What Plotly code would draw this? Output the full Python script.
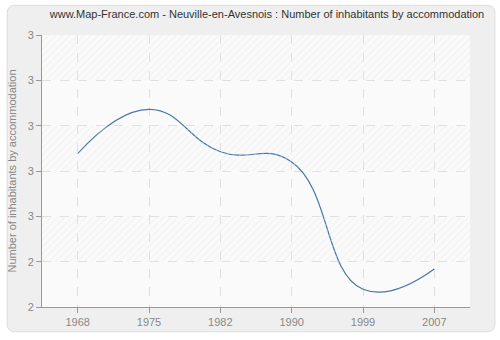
import plotly.graph_objects as go

years = ["1968", "1975", "1982", "1990", "1999", "2007"]
values = [2.846, 3.09, 2.856, 2.80, 2.098, 2.21]
tick_vals = [2.0, 2.25, 2.5, 2.75, 3.0, 3.25, 3.5]
tick_text = ["2", "2", "3", "3", "3", "3", "3"]
hatch_bases = [2.25, 2.75, 3.25]
band_step = 0.25

W, H = 500, 340
L, R, T, B = 40, 30, 35, 30
pw, ph = W - L - R, H - T - B

def px(x):
    return (x - L) / pw

def py(y):
    return (H - B - y) / ph

# rounded background box
x0, x1, y0, y1, r = 5, 495, 5, 335, 8
path = (
    f"M {px(x0 + r)},{py(y0)} L {px(x1 - r)},{py(y0)} "
    f"Q {px(x1)},{py(y0)} {px(x1)},{py(y0 + r)} "
    f"L {px(x1)},{py(y1 - r)} Q {px(x1)},{py(y1)} {px(x1 - r)},{py(y1)} "
    f"L {px(x0 + r)},{py(y1)} Q {px(x0)},{py(y1)} {px(x0)},{py(y1 - r)} "
    f"L {px(x0)},{py(y0 + r)} Q {px(x0)},{py(y0)} {px(x0 + r)},{py(y0)} Z"
)

fig = go.Figure()
# hatched background bands
fig.add_trace(go.Bar(
    x=[0.5] * len(hatch_bases), y=[band_step] * len(hatch_bases), base=hatch_bases,
    width=1, xaxis="x2", yaxis="y",
    marker=dict(color="rgba(0,0,0,0)", line=dict(width=0),
                pattern=dict(shape="/", fgcolor="#e6e6e6", bgcolor="rgba(0,0,0,0)",
                             size=5, solidity=0.2)),
    hoverinfo="skip", showlegend=False,
))
fig.add_trace(go.Scatter(
    x=years, y=values, mode="lines",
    line=dict(color="#4a76a8", width=1.2, shape="spline", smoothing=1.3),
    hoverinfo="x+y", showlegend=False,
))

font = "Liberation Sans, Arial, sans-serif"
fig.update_layout(
    width=W, height=H,
    margin=dict(l=L, r=R, t=T, b=B),
    paper_bgcolor="white",
    plot_bgcolor="#fafafa",
    barmode="overlay",
    title=dict(
        text="www.Map-France.com - Neuville-en-Avesnois : Number of inhabitants by accommodation",
        x=267 / W, xanchor="center", y=1 - 14 / H, yanchor="middle",
        font=dict(family=font, size=11, color="#333333"),
    ),
    xaxis=dict(
        type="category", range=[-0.5, 5.5],
        showline=True, linecolor="#999999", linewidth=1,
        ticks="outside", ticklen=5, tickcolor="#999999",
        showgrid=True, gridcolor="#e0e0e0", griddash="dash", gridwidth=1,
        tickfont=dict(family=font, size=11, color="#888888"),
        zeroline=False, fixedrange=True,
    ),
    xaxis2=dict(
        overlaying="x", range=[0, 1], visible=False, fixedrange=True,
    ),
    yaxis=dict(
        range=[2.0, 3.5],
        tickvals=tick_vals, ticktext=tick_text,
        showline=True, linecolor="#999999", linewidth=1,
        ticks="outside", ticklen=5, tickcolor="#999999",
        showgrid=True, gridcolor="#e0e0e0", griddash="dash", gridwidth=1,
        tickfont=dict(family=font, size=11, color="#888888"),
        title=dict(text="Number of inhabitants by accommodation",
                   font=dict(family=font, size=11, color="#888888"), standoff=8),
        zeroline=False, fixedrange=True,
    ),
    shapes=[
        dict(type="path", path=path, xref="paper", yref="paper",
             fillcolor="#efefef", line=dict(color="#dddddd", width=1),
             layer="below"),
        dict(type="rect", x0=0, x1=1, y0=0, y1=1, xref="paper", yref="paper",
             fillcolor="#fafafa", line=dict(width=0), layer="below"),
    ],
)

fig.write_html("out.html")
